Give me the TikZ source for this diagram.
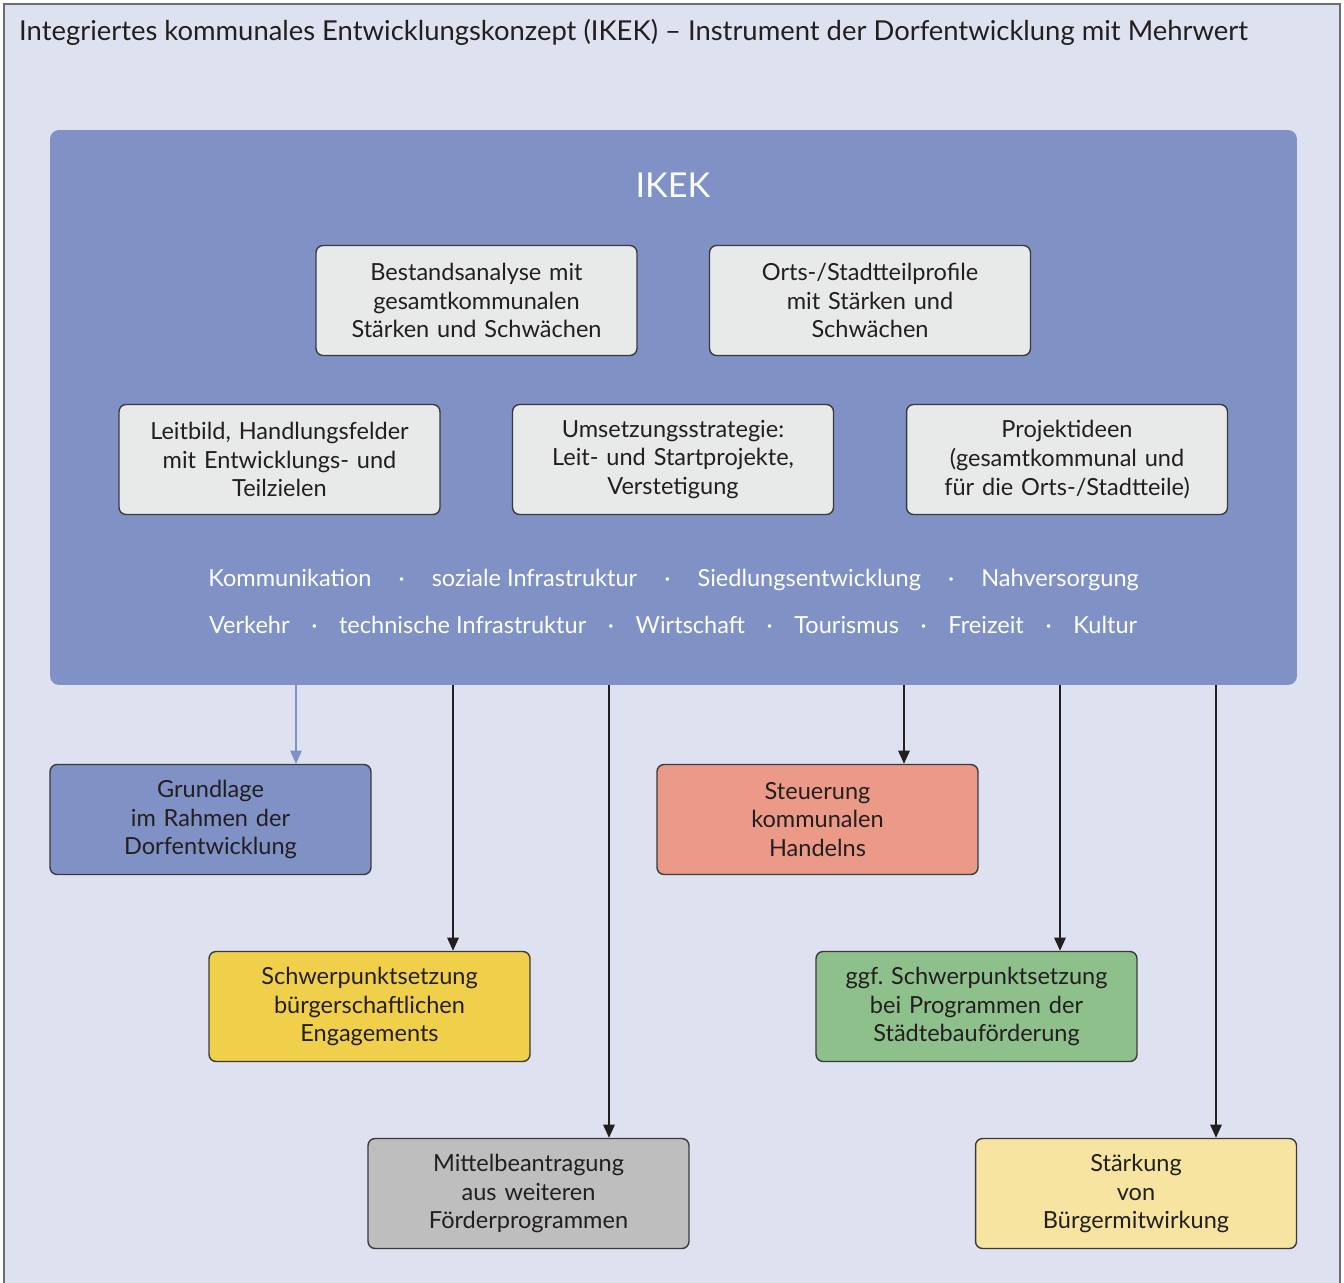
\documentclass[tikz,border=0pt]{standalone}
\usepackage{fontspec}
\setmainfont{Lato}
\usetikzlibrary{calc,arrows.meta}

\definecolor{bgback}{HTML}{DEE1EF}
\definecolor{frameline}{HTML}{6D6E71}
\definecolor{ikekblue}{HTML}{7F91C5}
\definecolor{cardgray}{HTML}{E8E9E9}
\definecolor{boxline}{HTML}{3A3A3C}
\definecolor{ink}{HTML}{231F20}
\definecolor{salmon}{HTML}{EC9A88}
\definecolor{sunyellow}{HTML}{F0CF4A}
\definecolor{leafgreen}{HTML}{8EC08C}
\definecolor{midgray}{HTML}{BEBEBF}
\definecolor{paleyellow}{HTML}{F7E4A0}

\newcommand{\boxfont}{\fontsize{13.4}{16.4}\selectfont\frenchspacing}
\newcommand{\wdot}[1]{\hspace{#1}·\hspace{#1}}

\begin{document}
\begin{tikzpicture}
        [x=0.02cm,y=-0.02cm,
         card/.style={draw=boxline,line width=.8pt,rounded corners=4pt,
           minimum width=6.42cm,minimum height=2.2cm,text width=6.2cm,
           align=center,font=\boxfont,text=ink,inner sep=0pt},
         keyword/.style={text=white,font=\boxfont},
         arr/.style={draw=ink,line width=1pt,-{Triangle[length=7.5pt,width=6.5pt]}}]

        \useasboundingbox (0,0) rectangle (1344,1283);
        \draw[fill=bgback,draw=frameline,line width=.9pt] (4,4) rectangle (1340,1300);

        \node[anchor=west,text=ink,font=\fontsize{15.6}{18}\selectfont] (title) at (13,32)
          {Integriertes kommunales Entwicklungskonzept (IKEK) -- Instrument der Dorfentwicklung mit Mehrwert};

        % IKEK panel
        \node[fill=ikekblue,rounded corners=5pt,minimum width=24.94cm,minimum height=11.1cm] (ikek) at (673.5,407.5) {};
        \node[text=white,font=\fontsize{19.5}{24}\selectfont] (ikeklabel) at (673,185) {IKEK};

        \node[card,fill=cardgray] (bestand) at (476.5,300.5) {Bestandsanalyse mit\\gesamtkommunalen\\Stärken und Schwächen};
        \node[card,fill=cardgray] (orts) at (870,300.5) {Orts-/Stadtteilprofile\\mit Stärken und\\Schwächen};
        \node[card,fill=cardgray] (leitbild) at (279.5,459.5) {Leitbild, Handlungsfelder\\mit Entwicklungs- und\\Teilzielen};
        \node[card,fill=cardgray] (umsetz) at (673,459.5) {Umsetzungsstrategie:\\Leit- und Startprojekte,\\Verstetigung};
        \node[card,fill=cardgray] (projekt) at (1067,459.5) {Projektideen\\(gesamtkommunal und\\für die Orts-/Stadtteile)};

        \node[keyword] (themes1) at (673.5,580) {Kommunikation\wdot{1.15em}soziale Infrastruktur\wdot{1.15em}Siedlungsentwicklung\wdot{1.15em}Nahversorgung};
        \node[keyword] (themes2) at (673,625) {Verkehr\wdot{.92em}technische Infrastruktur\wdot{.92em}Wirtschaft\wdot{.92em}Tourismus\wdot{.92em}Freizeit\wdot{.92em}Kultur};

        % outcomes
        \node[card,fill=ikekblue] (grund) at (210.5,819.5) {Grundlage\\im Rahmen der\\Dorfentwicklung};
        \node[card,fill=salmon] (steuer) at (817.5,819.5) {Steuerung\\kommunalen\\Handelns};
        \node[card,fill=sunyellow] (schwer) at (369.5,1006.5) {Schwerpunktsetzung\\bürgerschaftlichen\\Engagements};
        \node[card,fill=leafgreen] (ggf) at (976.5,1006.5) {ggf. Schwerpunktsetzung\\bei Programmen der\\Städtebauförderung};
        \node[card,fill=midgray] (mittel) at (528.5,1193.5) {Mittelbeantragung\\aus weiteren\\Förderprogrammen};
        \node[card,fill=paleyellow] (staerk) at (1136,1193.5) {Stärkung\\von\\Bürgermitwirkung};

        \coordinate (pgrund) at ($(grund.north)+(85.5,0)$);
        \coordinate (psteuer) at ($(steuer.north)+(86.5,0)$);
        \coordinate (pschwer) at ($(schwer.north)+(83.5,0)$);
        \coordinate (pggf) at ($(ggf.north)+(83.5,0)$);
        \coordinate (pmittel) at ($(mittel.north)+(80.5,0)$);
        \coordinate (pstaerk) at ($(staerk.north)+(80,0)$);

        \draw[arr,draw=ikekblue] (pgrund |- ikek.south) -- (pgrund);
        \draw[arr] (pschwer |- ikek.south) -- (pschwer);
        \draw[arr] (pmittel |- ikek.south) -- (pmittel);
        \draw[arr] (psteuer |- ikek.south) -- (psteuer);
        \draw[arr] (pggf |- ikek.south) -- (pggf);
        \draw[arr] (pstaerk |- ikek.south) -- (pstaerk);
    \end{tikzpicture}
\end{document}
